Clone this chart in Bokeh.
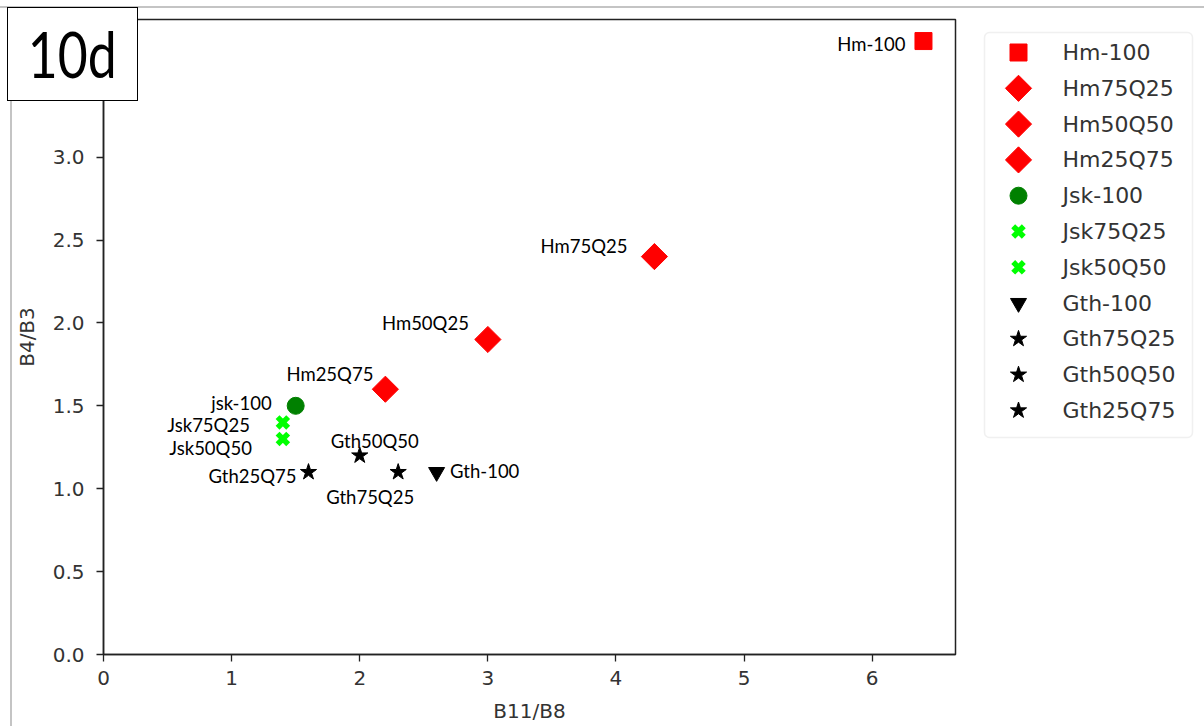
import math
from bokeh.plotting import figure
from bokeh.models import ColumnDataSource, Range1d, FixedTicker, PrintfTickFormatter, BoxAnnotation, Div
from bokeh.layouts import row, column
from bokeh.embed import file_html
from bokeh.resources import INLINE
from bokeh.core.properties import value

# ---------------- data ----------------
series_names = ["Hm-100", "Hm75Q25", "Hm50Q50", "Hm25Q75", "Jsk-100", "Jsk75Q25",
                "Jsk50Q50", "Gth-100", "Gth75Q25", "Gth50Q50", "Gth25Q75"]
point_labels = ["Hm-100", "Hm75Q25", "Hm50Q25", "Hm25Q75", "jsk-100", "Jsk75Q25",
                "Jsk50Q50", "Gth-100", "Gth75Q25", "Gth50Q50", "Gth25Q75"]
x_vals = [6.4, 4.3, 3.0, 2.2, 1.5, 1.4, 1.4, 2.6, 2.3, 2.0, 1.6]   # B11/B8
y_vals = [3.7, 2.4, 1.9, 1.6, 1.5, 1.4, 1.3, 1.1, 1.1, 1.2, 1.1]   # B4/B3
x_ticks = [0, 1, 2, 3, 4, 5, 6]
y_ticks = [0.0, 0.5, 1.0, 1.5, 2.0, 2.5, 3.0]
panel_tag = "10d"
x_title = "B11/B8"
y_title = "B4/B3"

# ---------------- styles ----------------
markers = ["square", "square", "square", "square", "circle", "x", "x",
           "inverted_triangle", "star", "star", "star"]
colors = ["#ff0000"] * 4 + ["#008000"] + ["#00ff00"] * 2 + ["#000000"] * 4
sizes = [17, 18.5, 18.5, 18.5, 17, 15, 15, 16, 17, 17, 17]
angles = [0, math.pi / 4, math.pi / 4, math.pi / 4, 0, 0, 0, 0, 0, 0, 0]
line_widths = [1, 1, 1, 1, 1, 5.5, 5.5, 1, 1, 1, 1]
lab_dx = [-18, -27, -19, -12, -24, -33, -31, 13.5, -28, 15, -12]
lab_dy = [3, -11, -16, -15, -3, 2.5, 9, -1, 25, -15, 4]
lab_align = ["right", "right", "right", "right", "right", "right", "right",
             "left", "center", "center", "right"]

src = ColumnDataSource(dict(x=x_vals, y=y_vals, marker=markers, color=colors,
                            size=sizes, angle=angles, lw=line_widths,
                            label=point_labels, dx=lab_dx, dy=lab_dy, align=lab_align))

p = figure(frame_width=852, frame_height=635,
           x_range=Range1d(0, 6.65), y_range=Range1d(0, 3.83),
           min_border_left=103, min_border_right=8, min_border_top=19, min_border_bottom=72,
           output_backend="svg", toolbar_location=None,
           background_fill_color="white", border_fill_color="white")
p.grid.visible = False
p.outline_line_color = "#222222"
p.outline_line_width = 1.5

for ax in (p.xaxis[0], p.yaxis[0]):
    ax.axis_line_color = "#222222"
    ax.axis_line_width = 1.5
    ax.major_tick_line_color = "#222222"
    ax.major_tick_line_width = 1.3
    ax.major_tick_out = 7
    ax.major_tick_in = 0
    ax.minor_tick_line_color = None
    ax.major_label_text_font = "DejaVu Sans"
    ax.major_label_text_font_size = "20px"
    ax.major_label_text_color = "#333333"
    ax.axis_label_text_font = "DejaVu Sans"
    ax.axis_label_text_font_size = "20px"
    ax.axis_label_text_font_style = "normal"
    ax.axis_label_text_color = "#333333"

p.xaxis.ticker = FixedTicker(ticks=x_ticks)
p.yaxis.ticker = FixedTicker(ticks=y_ticks)
p.yaxis.formatter = PrintfTickFormatter(format="%.1f")
p.xaxis.major_label_standoff = 9
p.yaxis.major_label_standoff = 12
p.xaxis.axis_label = x_title
p.yaxis.axis_label = y_title
p.xaxis.axis_label_standoff = 11
p.yaxis.axis_label_standoff = 11

p.scatter(x="x", y="y", source=src, marker="marker", size="size", angle="angle",
          fill_color="color", line_color="color", line_width="lw")
p.text(x="x", y="y", text="label", source=src, x_offset="dx", y_offset="dy",
       text_align="align", text_baseline="middle",
       text_font=value("Lato"), text_font_size="18.5px", text_color="#000000")

# ---------------- legend panel (page-pixel coordinates) ----------------
q = figure(frame_width=241, frame_height=635,
           x_range=Range1d(963, 1204), y_range=Range1d(654, 19),
           min_border_left=0, min_border_right=0, min_border_top=19, min_border_bottom=72,
           x_axis_location=None, y_axis_location=None,
           output_backend="svg", toolbar_location=None,
           background_fill_color="white", border_fill_color="white")
q.grid.visible = False
q.outline_line_color = None

q.add_layout(BoxAnnotation(left=984, right=1192, top=32, bottom=437, level="underlay",
                           fill_color="white", fill_alpha=1.0,
                           line_color="#cccccc", line_width=1.5, border_radius=5))

n = len(series_names)
leg_src = ColumnDataSource(dict(
    x=[1018] * n, tx=[1062] * n, y=[52 + i * 35.8 for i in range(n)],
    marker=markers, color=colors, size=sizes, angle=angles, lw=line_widths,
    name=series_names))
q.scatter(x="x", y="y", source=leg_src, marker="marker", size="size", angle="angle",
          fill_color="color", line_color="color", line_width="lw")
q.text(x="tx", y="y", text="name", source=leg_src, text_align="left",
       text_baseline="middle", text_font=value("DejaVu Sans"),
       text_font_size="22px", text_color="#333333")

# ---------------- page frame lines and panel tag box "10d" ----------------
top_line = Div(text="", width=1204, height=2, margin=0,
               styles={"position": "absolute", "left": "0px", "top": "6px",
                       "width": "1204px", "height": "2px",
                       "background-color": "#c4c4c4", "z-index": "5"})
left_line = Div(text="", width=2, height=719, margin=0,
                styles={"position": "absolute", "left": "10px", "top": "7px",
                        "width": "2px", "height": "719px",
                        "background-color": "#c4c4c4", "z-index": "5"})
tag = Div(text='<span style="display:inline-block; transform:scaleX(0.82); '
               'transform-origin:center;">' + panel_tag + '</span>',
          width=131, height=94, margin=0,
          styles={"position": "absolute", "left": "7px", "top": "7px",
                  "width": "131px", "height": "94px", "box-sizing": "border-box",
                  "border": "1.5px solid #000000", "background-color": "#ffffff",
                  "font-family": "'Lato', sans-serif",
                  "font-size": "63px", "line-height": "91px",
                  "text-align": "center", "color": "#000000", "z-index": "10"})

layout = column(row(p, q), top_line, left_line, tag)
open("out.html", "w").write(file_html(layout, INLINE))
